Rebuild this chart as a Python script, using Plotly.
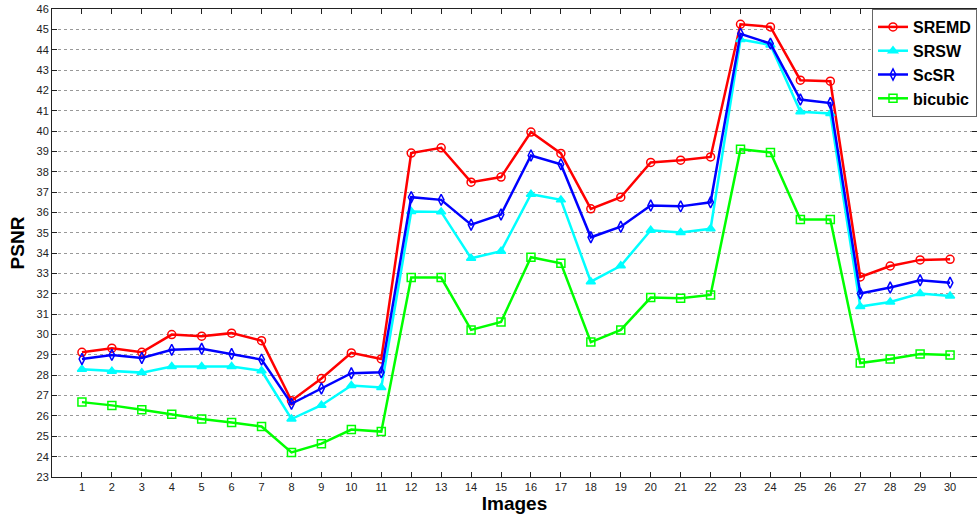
import plotly.graph_objects as go

images = list(range(1, 31))

sremd = [29.13, 29.33, 29.13, 30.0, 29.92, 30.07, 29.7, 26.75, 27.84, 29.1,
         28.8, 38.92, 39.18, 37.49, 37.74, 39.95, 38.9, 36.18, 36.75, 38.46,
         38.57, 38.73, 45.25, 45.12, 42.5, 42.45, 32.83, 33.37, 33.67, 33.7]
srsw = [28.3, 28.2, 28.13, 28.43, 28.43, 28.43, 28.22, 25.85, 26.53, 27.5,
        27.4, 36.05, 36.03, 33.75, 34.1, 36.9, 36.62, 32.6, 33.38, 35.13,
        35.02, 35.2, 44.5, 44.23, 40.95, 40.87, 31.38, 31.6, 32.02, 31.9]
scsr = [28.8, 29.0, 28.85, 29.25, 29.3, 29.05, 28.77, 26.6, 27.35, 28.1,
        28.15, 36.75, 36.62, 35.4, 35.9, 38.8, 38.37, 34.78, 35.3, 36.34,
        36.3, 36.5, 44.78, 44.3, 41.55, 41.38, 32.02, 32.31, 32.67, 32.55]
bicubic = [26.68, 26.52, 26.3, 26.08, 25.85, 25.68, 25.48, 24.21, 24.64, 25.33,
           25.23, 32.8, 32.8, 30.23, 30.62, 33.8, 33.5, 29.63, 30.23, 31.82,
           31.78, 31.95, 39.11, 38.95, 35.65, 35.65, 28.6, 28.8, 29.05, 29.0]

y_ticks = list(range(23, 47))

series = [
    ("SREMD", sremd, "#ff0000", "circle-open"),
    ("SRSW", srsw, "#00ffff", "triangle-up"),
    ("ScSR", scsr, "#0000ff", "diamond-tall-open"),
    ("bicubic", bicubic, "#00ff00", "square-open"),
]

fig = go.Figure()
for name, vals, color, sym in series:
    fig.add_trace(go.Scatter(
        x=images, y=vals, name=name, mode="lines+markers",
        line=dict(color=color, width=2.5),
        marker=dict(symbol=sym, size=8, color=color,
                    line=dict(color=color, width=1.5)),
    ))

fig.update_layout(
    width=977, height=519,
    margin=dict(l=52, r=0, t=9, b=42),
    paper_bgcolor="white", plot_bgcolor="white",
    font=dict(family="Liberation Sans, Arial", size=11, color="#222"),
    legend=dict(
        x=1, y=1, xanchor="right", yanchor="top",
        bgcolor="white", bordercolor="#666", borderwidth=1,
        font=dict(family="Liberation Sans, Arial", size=16, color="black", weight="bold"),
        tracegroupgap=0, itemwidth=30,
    ),
    xaxis=dict(
        range=[0, 30.9], tickmode="array", tickvals=images,
        ticks="inside", ticklen=5, tickcolor="#222",
        showline=True, linecolor="#222", linewidth=1, mirror="ticks",
        showgrid=False, zeroline=False,
        title=dict(text="<b>Images</b>", font=dict(size=19, color="black"), standoff=4),
    ),
    yaxis=dict(
        range=[23, 46], tickmode="array", tickvals=y_ticks,
        ticks="inside", ticklen=5, tickcolor="#222",
        showline=True, linecolor="#222", linewidth=1, mirror="ticks",
        showgrid=True, gridcolor="#999", griddash="dot", gridwidth=1,
        zeroline=False,
        title=dict(text="<b>PSNR</b>", font=dict(size=19, color="black"), standoff=6),
    ),
)

fig.write_html("out.html")
